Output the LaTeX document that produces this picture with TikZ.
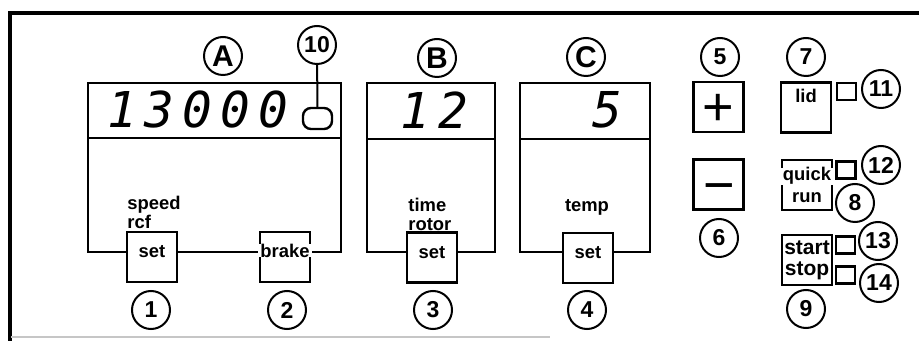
\documentclass[tikz,border=0pt]{standalone}
\usepackage{fontspec}
\setmainfont{Liberation Sans}
\newfontfamily\segfont{DejaVu Sans Mono}[LetterSpace=16.6]

\begin{document}
\begin{tikzpicture}
[x=0.5pt,y=-0.5pt,
frame/.style={line width=2pt},
display/.style={line width=1.4pt},
button/.style={draw,line width=1.4pt,fill=white,minimum size=25pt,inner sep=0pt},
led/.style={draw,line width=1.2pt,fill=white,minimum width=9.5pt,minimum height=8.5pt,inner sep=0pt},
ledOval/.style={draw,line width=1.2pt,rounded corners=4pt,minimum width=14.5pt,minimum height=10.5pt,inner sep=0pt},
callout/.style={circle,draw,line width=1pt,minimum size=19pt,inner sep=0pt,font=\fontsize{11.5}{12}\bfseries},
letterCallout/.style={callout,font=\fontsize{15}{16}\bfseries},
keyLabel/.style={inner sep=0pt,anchor=base,font=\fontsize{9.2}{9.5}\bfseries},
bigKeyLabel/.style={keyLabel,font=\fontsize{10.5}{11}\bfseries},
coverLabel/.style={keyLabel,fill=white,inner xsep=1.3pt},
sideLabel/.style={inner sep=0pt,anchor=south west,align=left,font=\fontsize{9.2}{9.3}\bfseries},
digits/.style={inner sep=0pt,anchor=east,font=\fontsize{24.7}{25}\segfont\itshape},
sign/.style={inner sep=0pt,anchor=base,font=\fontsize{27}{27}\selectfont},
edge/.style={line width=1pt},
]
\useasboundingbox (0,0) rectangle (919,341);
% panel frame
\draw[frame,] (9.5,341) -- (9.5,13.5) -- (930,13.5);
\draw[gray!45,line width=0.6pt] (11,337) -- (550,337);
% displays
\coordinate (A-nw) at (88,83);
\coordinate (A-se) at (341,252);
\coordinate (A-w) at (88,138);
\coordinate (A-e) at (341,138);
\coordinate (B-nw) at (367,83);
\coordinate (B-se) at (495,252);
\coordinate (B-w) at (367,139);
\coordinate (B-e) at (495,139);
\coordinate (C-nw) at (520,83);
\coordinate (C-se) at (650,252);
\coordinate (C-w) at (520,139);
\coordinate (C-e) at (650,139);
\draw[display,] (A-nw) rectangle (A-se);
\draw[display,] (A-w) -- (A-e);
\draw[display,] (B-nw) rectangle (B-se);
\draw[display,] (B-w) -- (B-e);
\draw[display,] (C-nw) rectangle (C-se);
\draw[display,] (C-w) -- (C-e);
\node[digits,] (readA) at (289,110) {13000};
\node[digits,] (readB) at (469,110) {12};
\node[digits,] (readC) at (623,110) {5};
\node[ledOval,] (ovalA) at (317.5,118.5) {};
% keys
\node[button,] (set1) at (152,257) {};
\node[button,] (brake) at (285,257) {};
\node[button,] (set3) at (432,257.5) {};
\node[button,] (set4) at (588,258) {};
\node[button,] (plus) at (718.5,107) {};
\node[button,] (minus) at (718.5,184.5) {};
\node[button,] (lid) at (806,107.5) {};
\node[button,] (quick) at (807,185) {};
\node[button,] (startstop) at (807,260) {};
\node[keyLabel,] (set1text) at (152,258) {set};
\node[coverLabel,] (braketext) at (285,257) {brake};
\node[keyLabel,] (set3text) at (432,258.5) {set};
\node[keyLabel,] (set4text) at (588,259) {set};
\node[keyLabel,] (lidtext) at (806,103) {lid};
\node[coverLabel,] (quicktext) at (807,181) {quick};
\node[keyLabel,] (runtext) at (807,203) {run};
\node[bigKeyLabel,] (starttext) at (807,255) {start};
\node[bigKeyLabel,] (stoptext) at (807,276) {stop};
\node[sign,] (plussign) at (718.5,126) {+};
\node[sign,] (minussign) at (719,204) {−};
\node[sideLabel,] (speedtext) at (127,229) {speed\\rcf};
\node[sideLabel,] (timetext) at (408,231) {time\\rotor};
\node[keyLabel,] (temptext) at (587,212) {temp};
% lamps
\node[led,] (led11) at (846.5,91.5) {};
\node[led,] (led12) at (846,170) {};
\node[led,] (led13) at (845.5,245) {};
\node[led,] (led14) at (845.5,275) {};
% callouts
\node[letterCallout,] (cA) at (223,56) {A};
\node[callout,] (c10) at (317,45) {10};
\node[letterCallout,] (cB) at (437,58) {B};
\node[letterCallout,] (cC) at (586,57) {C};
\node[callout,] (c5) at (720,57) {5};
\node[callout,] (c7) at (806,57) {7};
\node[callout,] (c11) at (881,89) {11};
\node[callout,] (c12) at (881,165) {12};
\node[callout,] (c8) at (855,203) {8};
\node[callout,] (c13) at (878,241) {13};
\node[callout,] (c14) at (879,283) {14};
\node[callout,] (c6) at (719,238) {6};
\node[callout,] (c9) at (806,309) {9};
\node[callout,] (c1) at (151,310) {1};
\node[callout,] (c2) at (287,310) {2};
\node[callout,] (c3) at (433,310) {3};
\node[callout,] (c4) at (587,310) {4};
\draw[edge,] (c10) -- (ovalA);
\end{tikzpicture}
\end{document}
